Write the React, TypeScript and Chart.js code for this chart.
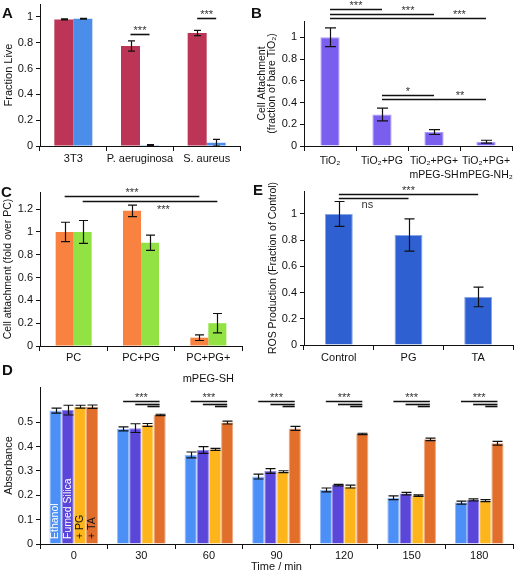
import React, { useEffect, useRef } from "react";
import { Chart, registerables } from "chart.js";

Chart.register(...registerables);

const FONT = "'Liberation Sans', Arial, Helvetica, sans-serif";

// ---------- Panel A: fraction live ----------
const catsA = ["3T3", "P. aeruginosa", "S. aureus"];
const liveA1 = [0.98, 0.775, 0.875];
const liveA1Err = [0.004, 0.04, 0.02];
const liveA2 = [0.985, 0.006, 0.025];
const liveA2Err = [0.003, 0.004, 0.026];

// ---------- Panel B: cell attachment (fraction of bare TiO2) ----------
const catsB = ["TiO₂", "TiO₂+PG", ["TiO₂+PG+", "mPEG-SH"], ["TiO₂+PG+", "mPEG-NH₂"]];
const attachB = [1.0, 0.29, 0.128, 0.04];
const attachBErr = [0.086, 0.058, 0.022, 0.013];

// ---------- Panel C: cell attachment (fold over PC) ----------
const catsC = ["PC", "PC+PG", ["PC+PG+", "mPEG-SH"]];
const attachC1 = [1.0, 1.185, 0.073];
const attachC1Err = [0.085, 0.05, 0.025];
const attachC2 = [1.0, 0.905, 0.2];
const attachC2Err = [0.1, 0.067, 0.085];

// ---------- Panel E: ROS production ----------
const catsE = ["Control", "PG", "TA"];
const rosE = [1.0, 0.84, 0.367];
const rosEErr = [0.095, 0.123, 0.075];

// ---------- Panel D: absorbance over time ----------
const timesD = ["0", "30", "60", "90", "120", "150", "180"];
const seriesD = ["Ethanol", "Fumed Silica", "+ PG", "+ TA"];
const absEthanol = [0.548, 0.473, 0.366, 0.277, 0.222, 0.19, 0.17];
const absEthanolErr = [0.01, 0.008, 0.012, 0.01, 0.008, 0.008, 0.006];
const absSilica = [0.55, 0.476, 0.386, 0.3, 0.242, 0.207, 0.181];
const absSilicaErr = [0.02, 0.018, 0.014, 0.01, 0.003, 0.005, 0.004];
const absPG = [0.564, 0.489, 0.389, 0.297, 0.236, 0.199, 0.178];
const absPGErr = [0.006, 0.006, 0.004, 0.004, 0.006, 0.003, 0.004];
const absTA = [0.564, 0.53, 0.499, 0.475, 0.452, 0.43, 0.414];
const absTAErr = [0.007, 0.003, 0.006, 0.008, 0.003, 0.005, 0.008];

// significance annotations: [fromDataset, fromCat], [toDataset, toCat], level (data units), label
type Bracket = { a: [number, number]; b: [number, number]; level: number; text: string; below?: boolean; t?: number };
const sigA: Bracket[] = [
  { a: [0, 1], b: [1, 1], level: 0.868, text: "***" },
  { a: [0, 2], b: [1, 2], level: 0.992, text: "***" },
];
const sigB: Bracket[] = [
  { a: [0, 0], b: [0, 1], level: 1.257, text: "***", t: 0.5 },
  { a: [0, 0], b: [0, 2], level: 1.217, text: "***", t: 0.75 },
  { a: [0, 0], b: [0, 3], level: 1.181, text: "***", t: 0.83 },
  { a: [0, 1], b: [0, 2], level: 0.468, text: "*", t: 0.5 },
  { a: [0, 1], b: [0, 3], level: 0.431, text: "**", t: 0.75 },
];
const sigC: Bracket[] = [
  { a: [0, 0], b: [0, 2], level: 1.313, text: "***", t: 0.5 },
  { a: [1, 0], b: [1, 2], level: 1.27, text: "***", below: true, t: 0.6 },
];
const sigE: Bracket[] = [
  { a: [0, 0], b: [0, 2], level: 1.153, text: "***", t: 0.5 },
  { a: [0, 0], b: [0, 1], level: 1.122, text: "ns", below: true, t: 0.41 },
];
const sigDLevels = [0.589, 0.577, 0.566];
const sigD: Bracket[] = [];
for (let c = 1; c < timesD.length; c++) {
  sigDLevels.forEach((lv, k) => {
    sigD.push({ a: [k, c], b: [3, c], level: lv, text: k === 0 ? "***" : "", t: 0.5 });
  });
}

type BarText = { ds: number; cat: number; text: string; color: string };
type Overlay = {
  cap: number;
  brackets?: Bracket[];
  barTexts?: BarText[];
  yTitle: { lines: string[]; x: number[]; size: number };
  xTitle?: { text: string; y: number; size: number };
};

function overlayPlugin(o: Overlay) {
  return {
    id: "overlay",
    afterDatasetsDraw(chart: any) {
      const ctx = chart.ctx as CanvasRenderingContext2D;
      const ys = chart.scales.y;
      const area = chart.chartArea;
      ctx.save();
      // error bars
      ctx.strokeStyle = "#111";
      ctx.lineWidth = 1.2;
      chart.data.datasets.forEach((ds: any, di: number) => {
        const meta = chart.getDatasetMeta(di);
        (ds.errors || []).forEach((e: number, i: number) => {
          const el = meta.data[i];
          if (!el) return;
          const v = ds.data[i];
          const x = Math.round(el.x) + 0.5;
          const y1 = ys.getPixelForValue(v + e);
          const y2 = ys.getPixelForValue(v - e);
          const h = o.cap / 2;
          ctx.beginPath();
          ctx.moveTo(x, y1);
          ctx.lineTo(x, y2);
          ctx.moveTo(x - h, y1);
          ctx.lineTo(x + h, y1);
          ctx.moveTo(x - h, y2);
          ctx.lineTo(x + h, y2);
          ctx.stroke();
        });
      });
      // significance lines
      (o.brackets || []).forEach((b) => {
        const ea = chart.getDatasetMeta(b.a[0]).data[b.a[1]];
        const eb = chart.getDatasetMeta(b.b[0]).data[b.b[1]];
        if (!ea || !eb) return;
        const y = Math.round(ys.getPixelForValue(b.level)) + 0.5;
        ctx.strokeStyle = "#111";
        ctx.lineWidth = 1.6;
        ctx.beginPath();
        ctx.moveTo(ea.x, y);
        ctx.lineTo(eb.x, y);
        ctx.stroke();
        if (b.text) {
          const t = b.t ?? 0.5;
          const tx = ea.x + (eb.x - ea.x) * t;
          ctx.font = `11px ${FONT}`;
          ctx.fillStyle = "#333";
          ctx.textAlign = "center";
          ctx.textBaseline = "alphabetic";
          const isStar = b.text.includes("*");
          const ty = b.below ? y + (isStar ? 11 : 9) : y - 1;
          ctx.fillText(b.text, tx, ty);
        }
      });
      // texts inside bars
      (o.barTexts || []).forEach((bt) => {
        const el = chart.getDatasetMeta(bt.ds).data[bt.cat];
        if (!el) return;
        ctx.save();
        ctx.translate(el.x, ys.getPixelForValue(0) - 5);
        ctx.rotate(-Math.PI / 2);
        ctx.font = `10.5px ${FONT}`;
        ctx.fillStyle = bt.color;
        ctx.textAlign = "left";
        ctx.textBaseline = "middle";
        ctx.fillText(bt.text, 0, 0);
        ctx.restore();
      });
      // axis titles
      ctx.fillStyle = "#111";
      ctx.font = `${o.yTitle.size}px ${FONT}`;
      ctx.textAlign = "center";
      ctx.textBaseline = "middle";
      const cy = (area.top + area.bottom) / 2;
      o.yTitle.lines.forEach((ln, i) => {
        ctx.save();
        ctx.translate(o.yTitle.x[i], cy);
        ctx.rotate(-Math.PI / 2);
        ctx.fillText(ln, 0, 0);
        ctx.restore();
      });
      if (o.xTitle) {
        ctx.font = `${o.xTitle.size}px ${FONT}`;
        ctx.fillText(o.xTitle.text, (area.left + area.right) / 2, o.xTitle.y);
      }
      ctx.restore();
    },
  };
}

function yAxis(max: number, step: number, width: number) {
  return {
    min: 0,
    max,
    afterFit: (s: any) => {
      s.width = width;
      s.paddingTop = 0;
      s.paddingBottom = 0;
    },
    afterBuildTicks: (s: any) => {
      s.ticks = s.ticks.filter((t: any) => Math.abs(t.value / step - Math.round(t.value / step)) < 1e-6);
    },
    ticks: {
      stepSize: step,
      color: "#111",
      font: { family: FONT, size: 11 },
      padding: 3,
      callback: (v: any) => String(+Number(v).toFixed(1)),
    },
    grid: { drawOnChartArea: false, drawTicks: true, tickLength: 4, color: "#111", lineWidth: 1 },
    border: { display: true, color: "#111", width: 1 },
  };
}

function xAxis(height: number, padding: number, lineHeight: number, size = 11) {
  return {
    afterFit: (s: any) => {
      s.height = height;
      s.paddingLeft = 0;
      s.paddingRight = 0;
    },
    ticks: {
      color: "#111",
      font: { family: FONT, size, lineHeight },
      padding,
      maxRotation: 0,
      autoSkip: false,
    },
    grid: { drawOnChartArea: false, drawTicks: true, tickLength: 5, color: "#111", offset: true },
    border: { display: true, color: "#111", width: 1 },
  };
}

function baseOptions(pad: { top: number; right: number }, x: any, y: any) {
  return {
    responsive: false,
    animation: false as const,
    devicePixelRatio: 1,
    layout: { padding: { top: pad.top, right: pad.right, left: 0, bottom: 0 } },
    plugins: { legend: { display: false }, tooltip: { enabled: false } },
    scales: { x, y },
  };
}

function buildA(): any {
  return {
    type: "bar",
    data: {
      labels: catsA,
      datasets: [
        { data: liveA1, errors: liveA1Err, backgroundColor: "#BC3456", categoryPercentage: 0.57, barPercentage: 1 },
        { data: liveA2, errors: liveA2Err, backgroundColor: "#4A8EEA", categoryPercentage: 0.57, barPercentage: 1 },
      ],
    },
    options: baseOptions({ top: 4, right: 10 }, xAxis(26, 1, 1.2), yAxis(1.1, 0.2, 40)),
    plugins: [overlayPlugin({ cap: 7, brackets: sigA, yTitle: { lines: ["Fraction Live"], x: [9], size: 11 } })],
  };
}

function buildB(): any {
  return {
    type: "bar",
    data: {
      labels: catsB,
      datasets: [
        {
          data: attachB,
          errors: attachBErr,
          backgroundColor: "#7A5FEE",
          borderColor: "#AE9DF6",
          borderWidth: 1,
          categoryPercentage: 0.37,
          barPercentage: 1,
        },
      ],
    },
    options: baseOptions({ top: 21, right: 3 }, xAxis(36, 3, 14 / 10.5, 10.5), yAxis(1.15, 0.2, 49)),
    plugins: [
      overlayPlugin({
        cap: 11,
        brackets: sigB,
        yTitle: { lines: ["Cell Attachment", "(fraction of bare TiO₂)"], x: [7.5, 17.5], size: 10.5 },
      }),
    ],
  };
}

function buildC(): any {
  return {
    type: "bar",
    data: {
      labels: catsC,
      datasets: [
        { data: attachC1, errors: attachC1Err, backgroundColor: "#F98240", categoryPercentage: 0.535, barPercentage: 1 },
        { data: attachC2, errors: attachC2Err, backgroundColor: "#92E244", categoryPercentage: 0.535, barPercentage: 1 },
      ],
    },
    options: baseOptions({ top: 12, right: 8 }, xAxis(39, -3.5, 21 / 11), yAxis(1.35, 0.2, 40)),
    plugins: [
      overlayPlugin({
        cap: 9,
        brackets: sigC,
        yTitle: { lines: ["Cell attachment (fold over PC)"], x: [8], size: 10.5 },
      }),
    ],
  };
}

function buildE(): any {
  return {
    type: "bar",
    data: {
      labels: catsE,
      datasets: [
        {
          data: rosE,
          errors: rosEErr,
          backgroundColor: "#2E60D1",
          borderColor: "#86A4E8",
          borderWidth: 1,
          categoryPercentage: 0.4,
          barPercentage: 1,
        },
      ],
    },
    options: baseOptions({ top: 11, right: 2 }, xAxis(35, 1, 1.2), yAxis(1.175, 0.2, 49)),
    plugins: [
      overlayPlugin({
        cap: 10,
        brackets: sigE,
        yTitle: { lines: ["ROS Production (Fraction of Control)"], x: [18], size: 10.5 },
      }),
    ],
  };
}

function buildD(): any {
  const mk = (data: number[], errors: number[], bg: string, bd: string, label: string) => ({
    label,
    data,
    errors,
    backgroundColor: bg,
    borderColor: bd,
    borderWidth: 1,
    categoryPercentage: 0.72,
    barPercentage: 1,
  });
  return {
    type: "bar",
    data: {
      labels: timesD,
      datasets: [
        mk(absEthanol, absEthanolErr, "#4B8FF7", "#93BBFA", seriesD[0]),
        mk(absSilica, absSilicaErr, "#5A46D8", "#9889E8", seriesD[1]),
        mk(absPG, absPGErr, "#FDB51B", "#FED47E", seriesD[2]),
        mk(absTA, absTAErr, "#E16F2B", "#EFA77E", seriesD[3]),
      ],
    },
    options: baseOptions({ top: 4, right: 2 }, xAxis(30, 0.5, 1.2), yAxis(0.645, 0.1, 40)),
    plugins: [
      overlayPlugin({
        cap: 10,
        brackets: sigD,
        barTexts: [
          { ds: 0, cat: 0, text: seriesD[0], color: "#fff" },
          { ds: 1, cat: 0, text: seriesD[1], color: "#fff" },
          { ds: 2, cat: 0, text: seriesD[2], color: "#111" },
          { ds: 3, cat: 0, text: seriesD[3], color: "#111" },
        ],
        yTitle: { lines: ["Absorbance"], x: [9], size: 11 },
        xTitle: { text: "Time / min", y: 184, size: 11 },
      }),
    ],
  };
}

function ChartCanvas(props: { left: number; top: number; width: number; height: number; build: () => any }) {
  const ref = useRef<HTMLCanvasElement>(null);
  useEffect(() => {
    const chart = new Chart(ref.current as HTMLCanvasElement, props.build());
    return () => chart.destroy();
  }, []);
  return (
    <canvas
      ref={ref}
      width={props.width}
      height={props.height}
      style={{ position: "absolute", left: props.left, top: props.top, width: props.width, height: props.height }}
    />
  );
}

const letterStyle = (left: number, top: number): React.CSSProperties => ({
  position: "absolute",
  left,
  top,
  fontFamily: FONT,
  fontWeight: "bold",
  fontSize: 15,
  lineHeight: "15px",
  color: "#111",
});

export default function App() {
  return (
    <div
      style={{
        position: "fixed",
        left: 0,
        top: 0,
        width: 515,
        height: 571,
        overflow: "hidden",
        background: "#fff",
      }}
    >
      <ChartCanvas left={0} top={0} width={250} height={172} build={buildA} />
      <ChartCanvas left={255} top={0} width={260} height={182} build={buildB} />
      <ChartCanvas left={0} top={180} width={250} height={205} build={buildC} />
      <ChartCanvas left={255} top={180} width={260} height={200} build={buildE} />
      <ChartCanvas left={0} top={383} width={515} height={191} build={buildD} />
      <div style={letterStyle(2, 5)}>A</div>
      <div style={letterStyle(251, 5)}>B</div>
      <div style={letterStyle(1, 184)}>C</div>
      <div style={letterStyle(253, 182)}>E</div>
      <div style={letterStyle(2, 362)}>D</div>
    </div>
  );
}
